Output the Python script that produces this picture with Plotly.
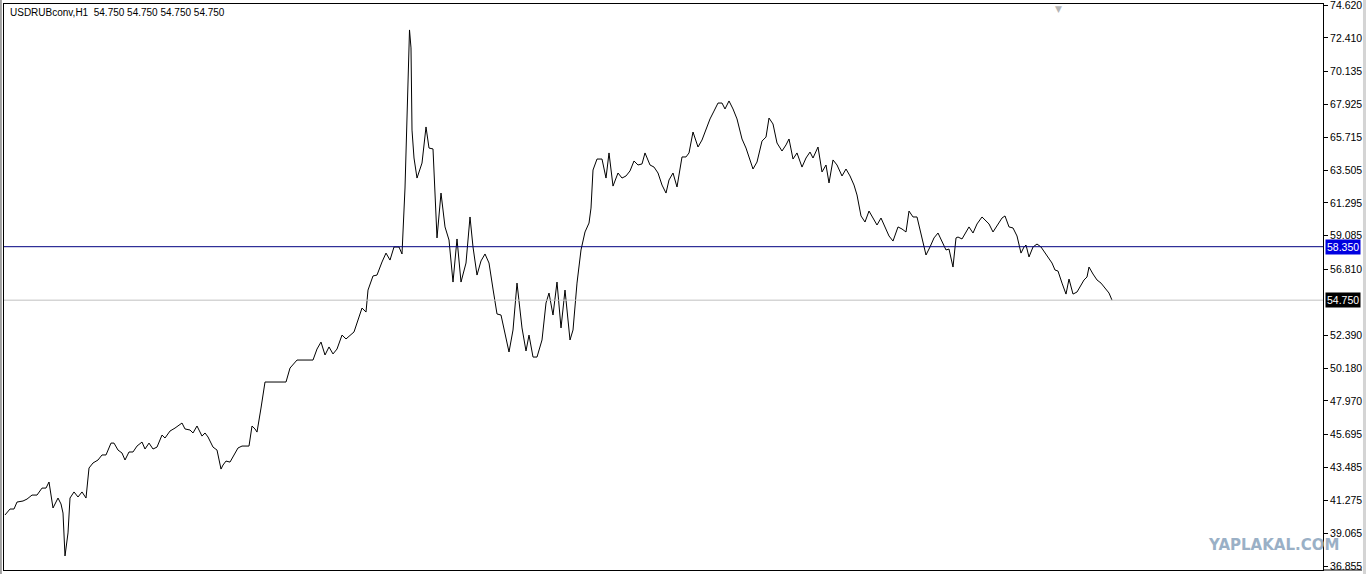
import plotly.graph_objects as go

# ---- data ----
bar = [5, 10, 14, 17, 23, 27, 32, 37, 42, 46, 49, 51, 53, 58, 61, 63, 65, 68, 70, 74,
       78, 82, 86, 89, 93, 98, 102, 106, 111, 114, 118, 122, 125, 129, 133, 137, 142, 145, 149, 153,
       157, 162, 165, 170, 175, 182, 185, 190, 193, 197, 202, 205, 208, 213, 217, 221, 223, 226, 230, 238,
       242, 249, 252, 255, 257, 261, 265, 270, 275, 280, 286, 290, 297, 301, 305, 309, 313, 317, 321, 325,
       329, 333, 337, 342, 346, 354, 358, 362, 366, 368, 373, 377, 382, 386, 390, 394, 399, 402, 405, 408,
       409.5, 411, 412, 414, 417, 422, 426, 429, 433, 437, 441, 445, 449, 453, 457, 461, 466, 470, 473, 477,
       481, 485, 489, 493, 497, 501, 505, 509, 513, 517, 522, 526, 529, 533, 537, 542, 546, 549, 553, 557,
       561, 565, 570, 573, 577, 581, 585, 589, 591, 593, 597, 602, 606, 609, 613, 618, 622, 626, 630, 634,
       638, 642, 645, 650, 654, 658, 662, 666, 669, 673, 677, 682, 686, 689, 693, 698, 702, 706, 710, 714,
       718, 722, 725, 729, 733, 737, 742, 746, 750, 753, 757, 762, 766, 769, 773, 777, 782, 786, 789, 793,
       797, 802, 806, 810, 813, 818, 822, 826, 829, 833, 837, 842, 846, 850, 854, 857, 861, 865, 869, 873,
       877, 881, 885, 889, 893, 898, 902, 906, 909, 913, 917, 922, 926, 930, 934, 938, 942, 946, 949, 953,
       956, 958, 962, 966, 969, 973, 977, 982, 986, 989, 993, 997, 1002, 1005, 1009, 1013, 1017, 1021, 1024, 1026,
       1029, 1033, 1037, 1041, 1045, 1048, 1052, 1055, 1058, 1062, 1066, 1069, 1073, 1077, 1081, 1084, 1087, 1089, 1093, 1097,
       1101, 1105, 1109, 1112]

close = [40.29, 40.69, 40.69, 41.16, 41.23, 41.36, 41.63, 41.63, 42.10, 42.10, 42.51, 41.77, 40.76, 41.43, 41.03, 40.42, 37.53, 39.08, 41.43, 41.84,
         41.50, 41.84, 41.43, 43.45, 43.79, 43.99, 44.33, 44.33, 45.13, 45.13, 44.66, 44.46, 43.99, 44.53, 44.53, 44.93, 45.20, 44.73, 45.13, 44.73,
         44.86, 45.67, 45.47, 45.94, 46.14, 46.48, 46.08, 46.01, 45.81, 46.28, 45.60, 45.81, 45.54, 44.86, 44.66, 43.38, 43.65, 43.92, 43.85, 44.80,
         44.93, 44.93, 46.28, 46.08, 45.87, 47.49, 49.24, 49.24, 49.24, 49.24, 49.24, 50.18, 50.72, 50.72, 50.72, 50.72, 50.72, 51.46, 51.93, 51.06,
         51.60, 51.13, 51.46, 52.40, 52.14, 52.61, 53.48, 54.22, 53.95, 55.43, 56.38, 56.44, 57.32, 57.92, 57.45, 58.33, 58.33, 57.86, 62.30, 69.37,
         72.94, 71.73, 66.20, 64.32, 62.97, 63.98, 66.41, 64.99, 64.93, 58.94, 61.96, 59.68, 58.80, 55.97, 58.87, 55.97, 57.25, 60.35, 58.33, 56.44,
         57.39, 57.86, 57.25, 55.50, 53.82, 53.75, 52.61, 51.26, 52.74, 55.90, 52.88, 51.33, 52.40, 50.92, 50.92, 52.07, 54.56, 55.23, 53.75, 55.97,
         52.88, 55.43, 52.07, 52.74, 55.90, 58.13, 59.34, 59.94, 60.95, 63.51, 64.25, 64.25, 62.97, 64.66, 62.43, 63.31, 62.97, 63.11, 63.45, 64.12,
         63.85, 63.92, 64.66, 63.85, 63.71, 63.31, 62.50, 61.96, 62.84, 63.31, 62.37, 64.39, 64.39, 64.66, 66.07, 65.06, 65.53, 66.20, 66.95, 67.48,
         68.02, 68.02, 67.62, 68.16, 67.62, 66.95, 65.60, 64.99, 64.19, 63.58, 64.05, 65.46, 65.73, 67.01, 66.61, 65.33, 64.79, 65.20, 65.60, 64.25,
         64.66, 63.71, 64.32, 64.72, 64.32, 65.06, 63.38, 63.85, 62.64, 64.19, 63.85, 63.11, 63.58, 63.11, 62.50, 61.83, 60.42, 60.01, 60.75, 60.28,
         59.81, 60.28, 59.68, 59.07, 58.73, 59.68, 59.54, 59.34, 60.75, 60.35, 60.35, 59.00, 57.79, 58.33, 58.94, 59.27, 58.67, 58.13, 58.19, 56.98,
         58.94, 59.00, 58.87, 59.34, 59.68, 59.27, 59.88, 60.35, 60.08, 59.88, 59.34, 59.74, 60.28, 60.42, 59.68, 59.61, 59.07, 57.92, 58.33, 58.46,
         57.66, 58.33, 58.53, 58.33, 57.92, 57.66, 57.25, 56.78, 56.71, 55.90, 55.16, 56.17, 55.16, 55.30, 55.77, 56.11, 56.31, 56.98, 56.51, 56.11,
         55.90, 55.57, 55.23, 54.75]

tick_values = [74.620, 72.410, 70.135, 67.925, 65.715, 63.505, 61.295, 59.085, 56.810,
               52.390, 50.180, 47.970, 45.695, 43.485, 41.275, 39.065, 36.855]
tick_labels = ["74.620", "72.410", "70.135", "67.925", "65.715", "63.505", "61.295", "59.085", "56.810",
               "52.390", "50.180", "47.970", "45.695", "43.485", "41.275", "39.065", "36.855"]

level_line = 58.350
bid_line = 54.750
title_text = "USDRUBconv,H1  54.750 54.750 54.750 54.750"
watermark = "YAPLAKAL.COM"

FONT = "Liberation Sans"

fig = go.Figure()
fig.add_trace(go.Scatter(x=bar, y=close, mode="lines",
                         line=dict(color="black", width=1), hoverinfo="skip",
                         showlegend=False))

# horizontal level lines
fig.add_hline(y=level_line, line=dict(color="#000080", width=1))
fig.add_hline(y=bid_line, line=dict(color="#C0C0C0", width=1))

# price labels on axis
fig.add_annotation(x=1.0, xref="paper", y=level_line, yref="y", xanchor="left", xshift=2,
                   text="58.350", showarrow=False, bgcolor="#0000E0",
                   font=dict(family=FONT, size=10.5, color="white"), borderpad=1)
fig.add_annotation(x=1.0, xref="paper", y=bid_line, yref="y", xanchor="left", xshift=2,
                   text="54.750", showarrow=False, bgcolor="black",
                   font=dict(family=FONT, size=10.5, color="white"), borderpad=1)

# title
fig.add_annotation(x=0, xref="paper", y=1, yref="paper", xanchor="left", yanchor="top",
                   xshift=4, yshift=-1, text=title_text, showarrow=False,
                   font=dict(family=FONT, size=10, color="black"))

# watermark
fig.add_annotation(x=1.0, xref="paper", y=0, yref="paper", xanchor="right", yanchor="bottom",
                   xshift=18, yshift=14, text="<b>" + watermark + "</b>", showarrow=False,
                   font=dict(family="DejaVu Sans", size=15, color="#9AB0C6"))

# small shift marker at top
fig.add_annotation(x=0.7995, xref="paper", y=1, yref="paper", xanchor="center", yanchor="top",
                   yshift=2, text="▼", showarrow=False,
                   font=dict(family="DejaVu Sans", size=9, color="#B4B4B4"))

# frame decorations
fig.add_shape(type="line", xref="paper", yref="paper", x0=1, x1=1.0296, y0=0, y1=0,
              line=dict(color="black", width=1))
fig.add_shape(type="rect", xref="paper", yref="paper", x0=-0.0031, x1=-0.0016, y0=-0.01, y1=1.01,
              line=dict(width=0), fillcolor="#A0A0A0")
fig.add_shape(type="rect", xref="paper", yref="paper", x0=1.0303, x1=1.0326, y0=-0.01, y1=1.01,
              line=dict(width=0), fillcolor="#D4D4D4")

fig.update_xaxes(range=[4, 1323], showgrid=False, zeroline=False, showticklabels=False,
                 showline=True, mirror=True, linecolor="black", linewidth=1, ticks="")
fig.update_yaxes(range=[36.586, 74.687], side="right", showgrid=False, zeroline=False,
                 tickmode="array", tickvals=tick_values, ticktext=tick_labels,
                 ticks="outside", ticklen=4, tickcolor="black", tickwidth=1,
                 ticklabeloverflow="allow",
                 showline=True, mirror=True, linecolor="black", linewidth=1,
                 tickfont=dict(family=FONT, size=10.5, color="black"))

fig.update_layout(width=1366, height=574, margin=dict(l=4, r=43, t=4, b=4, autoexpand=False),
                  paper_bgcolor="white", plot_bgcolor="white", showlegend=False)

fig.write_html("out.html", config={"displayModeBar": False},
               post_script="document.body.style.margin='0';document.body.style.overflow='hidden';")
